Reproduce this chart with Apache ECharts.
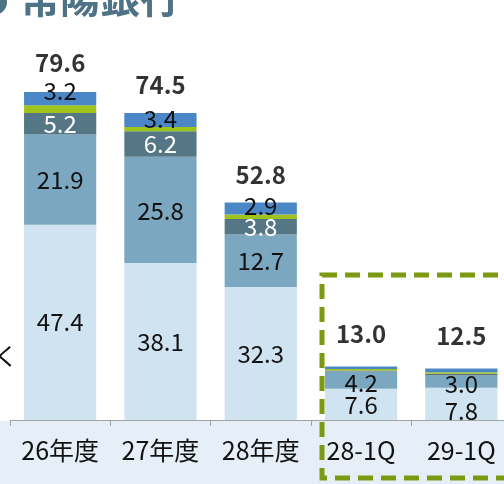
<!DOCTYPE html>
<html>
<head>
<meta charset="utf-8">
<script src="https://cdn.jsdelivr.net/npm/echarts@6/dist/echarts.min.js"></script>
<style>
  html, body { margin: 0; padding: 0; background: #ffffff; }
  #c { width: 504px; height: 484px; }
</style>
</head>
<body>
<div id="c"></div>
<script>
// Categories and stacked segment values (bottom to top)
const categories = ['26年度', '27年度', '28年度', '28-1Q', '29-1Q'];
const lightVals  = [47.4, 38.1, 32.3, 7.6, 7.8];
const mediumVals = [21.9, 25.8, 12.7, 4.2, 3.0];
const darkVals   = [5.2, 6.2, 3.8, 0.2, 0.4];
const greenVals  = [1.9, 1.0, 1.1, 0.4, 0.4];
const blueVals   = [3.2, 3.4, 2.9, 0.6, 0.9];
const totals     = [79.6, 74.5, 52.8, 13.0, 12.5];

const FONT = '"Noto Sans CJK JP", "Noto Sans", sans-serif';
const COLORS = {
  light: '#cfe3f1',
  medium: '#7ba8c0',
  dark: '#547685',
  green: '#9dc31c',
  blue: '#4b87c7'
};

// Per-bar label tweaks
const blueOffsets   = [-8, -1, -3, 0, 0];
const lightOffsets  = [0, 0, 0, 1, 7];
const mediumOffsets = [0, 1, 0, 3, 2];
const totalOffsets  = [-29, -28, -28, -33, -33];

function segData(vals, showCount, offsets) {
  return vals.map((v, i) => ({
    value: v,
    label: { show: i < showCount, offset: [0, offsets ? offsets[i] : 0] }
  }));
}

const segLabel = (color) => ({
  show: true,
  position: 'inside',
  color: color,
  fontFamily: FONT,
  fontSize: 24,
  formatter: (p) => p.value.toFixed(1)
});

const chart = echarts.init(document.getElementById('c'), null, { renderer: 'canvas' });

chart.setOption({
  animation: false,
  backgroundColor: '#ffffff',
  grid: { left: 10, width: 501.5, top: 90.4, height: 329.6,
          containLabel: false, outerBoundsMode: 'none' },
  xAxis: {
    type: 'category',
    data: categories,
    axisLine: { lineStyle: { color: '#a3a3a3', width: 1 } },
    axisTick: { show: true, length: 6, lineStyle: { color: '#a3a3a3' } },
    axisLabel: { interval: 0, hideOverlap: false, color: '#111111',
                 fontFamily: FONT, fontSize: 25, margin: 18 }
  },
  yAxis: { type: 'value', min: 0, max: 80, show: false },
  graphic: [
    // light band under the axis
    { type: 'rect', z: -10, silent: true,
      shape: { x: 0, y: 421, width: 504, height: 63 },
      style: { fill: '#e6eff7' } },
    // heading
    { type: 'circle', silent: true,
      shape: { cx: -6, cy: 2, r: 13 },
      style: { fill: '#4e7386' } },
    { type: 'text', silent: true, x: 20, y: -2,
      style: { text: '常陽銀行', fill: '#4e7386', font: 'bold 40px ' + FONT,
               textVerticalAlign: 'middle' } },
    { type: 'text', silent: true, x: -6, y: 356,
      style: { text: 'く', fill: '#111111', font: '24px ' + FONT,
               textVerticalAlign: 'middle' } },
    // dashed frame around the quarterly bars
    { type: 'rect', silent: true, z: 100,
      shape: { x: 322, y: 275, width: 200, height: 203 },
      style: { fill: 'none', stroke: '#7b9a12', lineWidth: 5, lineDash: [15, 8] } }
  ],
  series: [
    { name: 'light', type: 'bar', stack: 't', barCategoryGap: '28%',
      itemStyle: { color: COLORS.light },
      label: segLabel('#111111'),
      data: segData(lightVals, 5, lightOffsets) },
    { name: 'medium', type: 'bar', stack: 't',
      itemStyle: { color: COLORS.medium },
      label: segLabel('#111111'),
      data: segData(mediumVals, 5, mediumOffsets) },
    { name: 'dark', type: 'bar', stack: 't',
      itemStyle: { color: COLORS.dark },
      label: segLabel('#ffffff'),
      data: segData(darkVals, 3) },
    { name: 'green', type: 'bar', stack: 't',
      itemStyle: { color: COLORS.green },
      label: { show: false },
      data: greenVals },
    { name: 'blue', type: 'bar', stack: 't',
      itemStyle: { color: COLORS.blue },
      label: segLabel('#111111'),
      data: segData(blueVals, 3, blueOffsets) },
    { name: 'total', type: 'scatter', symbolSize: 1, z: 10,
      itemStyle: { color: 'rgba(0,0,0,0)' },
      label: {
        show: true, position: 'inside', color: '#000000',
        fontFamily: FONT, fontSize: 24, fontWeight: 'bold',
        formatter: (p) => p.value.toFixed(1)
      },
      data: totals.map((v, i) => ({ value: v, label: { offset: [0, totalOffsets[i]] } })) }
  ]
});
</script>
</body>
</html>
